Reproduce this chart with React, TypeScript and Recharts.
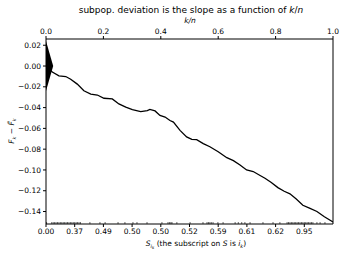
import {
  ComposedChart,
  Line,
  Scatter,
  XAxis,
  YAxis,
  ReferenceArea,
  ReferenceLine,
} from 'recharts';

// k/n positions and cumulative deviation F_k - F~_k
const kn = [
  0, 0.022, 0.045, 0.069, 0.086, 0.109, 0.132, 0.156, 0.179, 0.202, 0.231,
  0.254, 0.278, 0.301, 0.33, 0.353, 0.362, 0.38, 0.397, 0.415, 0.432, 0.444,
  0.467, 0.49, 0.508, 0.525, 0.548, 0.571, 0.6, 0.63, 0.653, 0.676, 0.699,
  0.722, 0.746, 0.763, 0.785, 0.808, 0.83, 0.85, 0.872, 0.895, 0.92, 0.944,
  0.97, 1.0,
];
const deviation = [
  0, -0.0057, -0.0095, -0.0101, -0.0127, -0.0174, -0.0238, -0.027, -0.0279,
  -0.031, -0.0317, -0.0365, -0.0396, -0.0419, -0.0438, -0.0429, -0.0418,
  -0.0432, -0.0476, -0.0491, -0.0524, -0.0539, -0.0619, -0.0682, -0.0705,
  -0.0708, -0.0746, -0.0777, -0.0825, -0.0882, -0.091, -0.0952, -0.1, -0.1015,
  -0.1053, -0.108, -0.112, -0.117, -0.1205, -0.123, -0.128, -0.134, -0.137,
  -0.14, -0.145, -0.15,
];

// positions of the observations (rug along the bottom)
const rug = [
  0.002, 0.02, 0.025, 0.03, 0.035, 0.04, 0.045, 0.05, 0.055, 0.06, 0.065, 0.07,
  0.075, 0.08, 0.085, 0.09, 0.095, 0.1, 0.105, 0.11, 0.115, 0.12, 0.153, 0.188,
  0.206, 0.251, 0.275, 0.303, 0.317, 0.352, 0.404, 0.425, 0.43, 0.435, 0.439,
  0.456, 0.502, 0.547, 0.561, 0.566, 0.571, 0.576, 0.582, 0.599, 0.617, 0.659,
  0.67, 0.682, 0.693, 0.711, 0.756, 0.791, 0.815, 0.84, 0.845, 0.85, 0.855,
  0.86, 0.865, 0.87, 0.875, 0.88, 0.885, 0.89, 0.895, 0.9, 0.905, 0.91, 0.915,
  0.92, 0.925, 0.93, 0.944, 0.955, 0.972,
];

const topTicks = [0, 0.2, 0.4, 0.6, 0.8, 1.0];
const bottomTicks = [0, 0.1, 0.2, 0.3, 0.4, 0.5, 0.6, 0.7, 0.8, 0.9];
const bottomLabels = [
  '0.00', '0.37', '0.49', '0.50', '0.50', '0.52', '0.59', '0.61', '0.62', '0.95',
];
const yTicks = [-0.14, -0.12, -0.1, -0.08, -0.06, -0.04, -0.02, 0, 0.02];
const triangleHalf = 0.024;
const triangleWidth = 0.025;
const yDomain = [-0.152, 0.026];

const lineData = kn.map((x, i) => ({ x, y: deviation[i] }));
const rugData = rug.map((x) => ({ x, y: yDomain[0] }));

const font = 'DejaVu Sans, sans-serif';
const tickStyle = { fill: '#000', fontSize: 7.5, fontFamily: font };

const fmtY = (v: number) => {
  const s = Math.abs(v).toFixed(2);
  return v < -1e-9 ? '\u2212' + s : s;
};

const Triangle = (p: any) => {
  const { x, y, width, height } = p;
  return (
    <polygon
      points={`${x},${y} ${x + width},${y + height / 2} ${x},${y + height}`}
      fill="#000"
    />
  );
};

const RugTick = (p: any) => (
  <line
    x1={p.cx}
    x2={p.cx}
    y1={p.cy}
    y2={p.cy - 2}
    stroke="#000"
    strokeWidth={0.6}
  />
);

export default function App() {
  return (
    <div style={{ position: 'absolute', left: 0, top: 0, width: 345, height: 254 }}>
      <ComposedChart
        width={345}
        height={254}
        data={lineData}
        margin={{ top: 0, right: 12, bottom: 0, left: 0 }}
      >
        <XAxis
          xAxisId="top"
          orientation="top"
          type="number"
          dataKey="x"
          domain={[0, 1]}
          ticks={topTicks}
          tickFormatter={(v: number) => v.toFixed(1)}
          height={39}
          tickSize={3}
          stroke="#000"
          tick={tickStyle}
          allowDataOverflow
        />
        <XAxis
          xAxisId="bottom"
          orientation="bottom"
          type="number"
          dataKey="x"
          domain={[0, 1]}
          ticks={bottomTicks}
          tickFormatter={(_v: number, i: number) => bottomLabels[i]}
          height={30}
          tickSize={3}
          stroke="#000"
          tick={tickStyle}
          allowDataOverflow
        />
        <YAxis
          yAxisId="left"
          type="number"
          domain={yDomain}
          ticks={yTicks}
          tickFormatter={fmtY}
          width={46}
          tickSize={3}
          stroke="#000"
          tick={tickStyle}
          allowDataOverflow
        />
        <ReferenceLine
          xAxisId="bottom"
          yAxisId="left"
          x={1}
          stroke="#000"
          strokeWidth={1}
          ifOverflow="visible"
        />
        <ReferenceArea
          xAxisId="bottom"
          yAxisId="left"
          x1={0}
          x2={triangleWidth}
          y1={-triangleHalf}
          y2={triangleHalf}
          shape={Triangle}
        />
        <Scatter
          xAxisId="bottom"
          yAxisId="left"
          data={rugData}
          dataKey="y"
          shape={RugTick}
          isAnimationActive={false}
        />
        <Line
          xAxisId="bottom"
          yAxisId="left"
          type="linear"
          dataKey="y"
          stroke="#000"
          strokeWidth={1.3}
          dot={false}
          isAnimationActive={false}
        />
      </ComposedChart>
      <svg
        width={345}
        height={254}
        style={{ position: 'absolute', left: 0, top: 0, pointerEvents: 'none' }}
        fontFamily={font}
      >
        <text x={191} y={13} textAnchor="middle" fontSize={9}>
          subpop. deviation is the slope as a function of{' '}
          <tspan fontStyle="italic">k</tspan>/<tspan fontStyle="italic">n</tspan>
        </text>
        <text x={190} y={23} textAnchor="middle" fontSize={7.5} fontStyle="italic">
          k/n
        </text>
        <text x={196} y={246} textAnchor="middle" fontSize={7.5}>
          <tspan fontStyle="italic">S</tspan>
          <tspan fontSize={5} dy={1.5} fontStyle="italic">i</tspan>
          <tspan fontSize={4} dy={1} fontStyle="italic">k</tspan>
          <tspan dy={-2.5}> (the subscript on </tspan>
          <tspan fontStyle="italic">S</tspan>
          <tspan> is </tspan>
          <tspan fontStyle="italic">i</tspan>
          <tspan fontSize={5} dy={1.5} fontStyle="italic">k</tspan>
          <tspan dy={-1.5}>)</tspan>
        </text>
        <text
          transform="translate(14,131) rotate(-90)"
          textAnchor="middle"
          fontSize={7.5}
        >
          <tspan fontStyle="italic">F</tspan>
          <tspan fontSize={5} dy={1.5} fontStyle="italic">k</tspan>
          <tspan dy={-1.5}> {'\u2212'} </tspan>
          <tspan fontStyle="italic">{'F\u0303'}</tspan>
          <tspan fontSize={5} dy={1.5} fontStyle="italic">k</tspan>
        </text>
      </svg>
    </div>
  );
}
